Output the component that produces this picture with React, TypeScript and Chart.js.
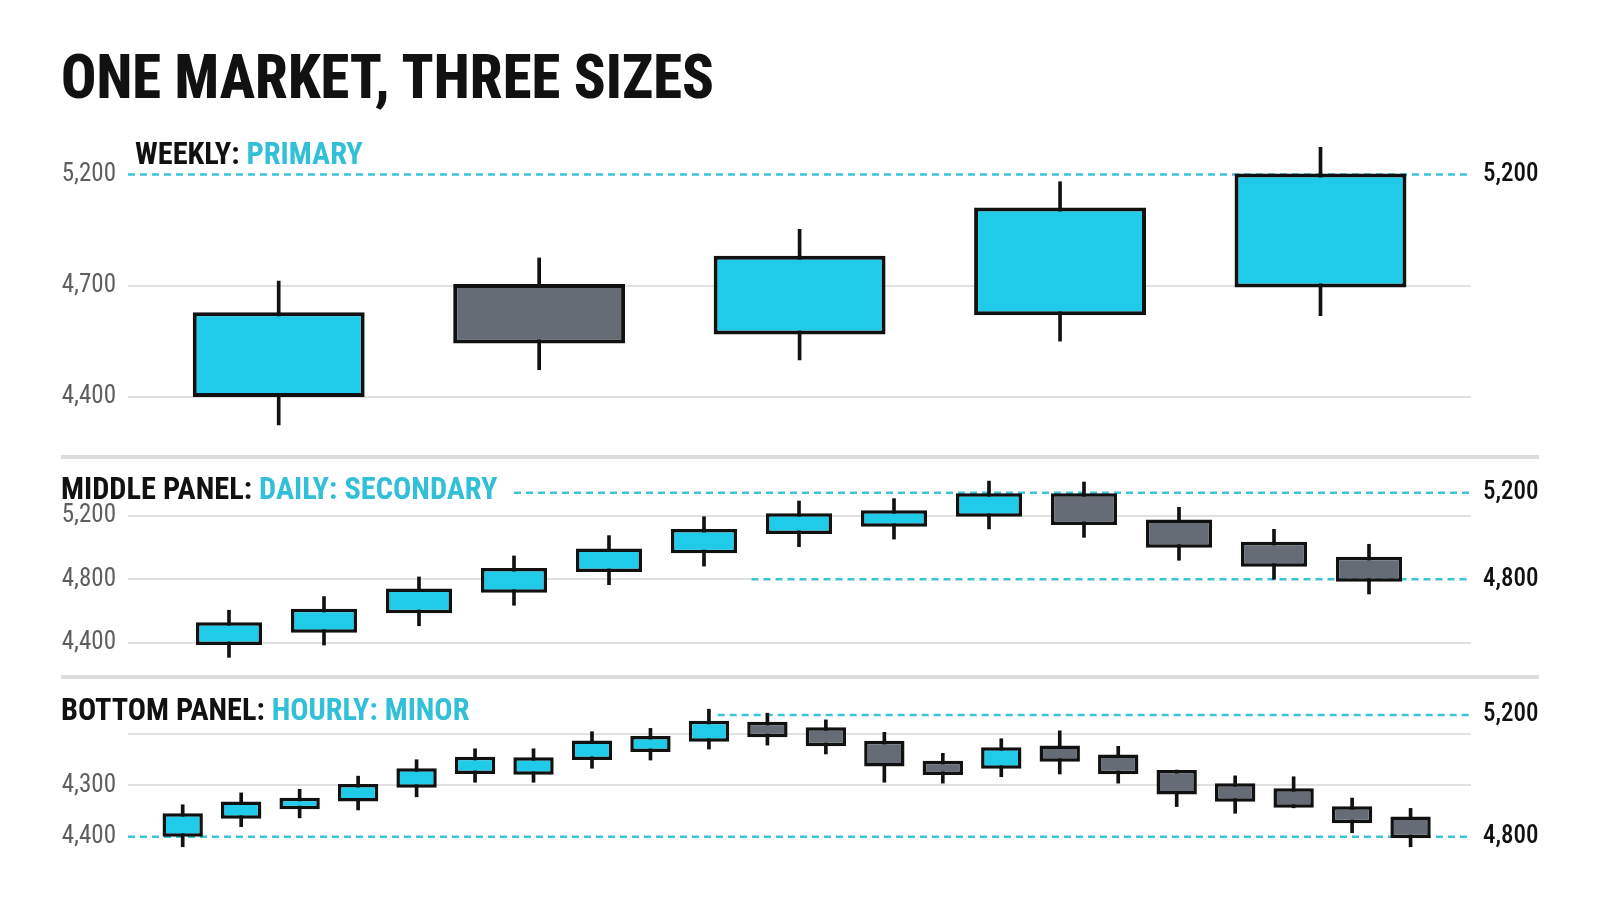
import React, { useEffect, useLayoutEffect, useRef, useState } from 'react';
import { Chart, registerables } from 'chart.js';

Chart.register(...registerables);

// ---------- DATA ----------
// Weekly candles (price units)
const weeklyOpen = [4400, 4806, 4625, 4694, 4794];
const weeklyHigh = [4817, 4900, 5003, 5174, 5298];
const weeklyLow = [4300, 4498, 4533, 4601, 4692];
const weeklyClose = [4705, 4592, 4908, 5081, 5204];
const weeklyLeftLabels = ['4,400', '4,700', '5,200'];
const weeklyRightTicks = [5200];
const weeklyRefLevels = [5200];

// Daily candles
const dailyOpen = [4496, 4553, 4643, 4738, 4834, 4920, 5009, 5043, 5089, 5198, 5077, 4974, 4904];
const dailyHigh = [4657, 4720, 4811, 4908, 5002, 5089, 5162, 5173, 5254, 5250, 5133, 5031, 4962];
const dailyLow = [4439, 4496, 4585, 4680, 4775, 4861, 4951, 4986, 5033, 4994, 4888, 4800, 4732];
const dailyClose = [4601, 4664, 4757, 4852, 4943, 5033, 5105, 5119, 5198, 5051, 4946, 4858, 4789];
const dailyLeftLabels = ['4,400', '4,800', '5,200'];
const dailyRightTicks = [4800, 5200];
const dailyRefLevels = [5200, 4800];

// Hourly candles
const hourlyOpen = [4800, 4859, 4890, 4916, 4961, 5006, 5004, 5052, 5078, 5112, 5178, 5160, 5115, 5050, 5023, 5100, 5070, 5019, 4976, 4959, 4900, 4866];
const hourlyHigh = [4905, 4944, 4956, 4999, 5053, 5089, 5089, 5145, 5156, 5219, 5206, 5184, 5143, 5074, 5122, 5148, 5097, 5019, 5000, 4997, 4927, 4893];
const hourlyLow = [4767, 4833, 4862, 4888, 4931, 4979, 4979, 5025, 5052, 5088, 5101, 5072, 4979, 4976, 4997, 5006, 4976, 4899, 4877, 4895, 4813, 4767];
const hourlyClose = [4877, 4916, 4928, 4973, 5025, 5063, 5061, 5116, 5131, 5181, 5127, 5097, 5031, 5003, 5094, 5046, 5005, 4939, 4915, 4895, 4844, 4795];
const hourlyLeftLabels = ['4,400', '4,300', ''];
const hourlyRightTicks = [4800, 5200];
const hourlyRefLevels = [5200, 4800];

// ---------- STYLE ----------
const CYAN = '#1fcbe8';
const GRAY = '#656c76';
const INK = '#111111';
const DASH = '#3cc4d7';
const GRID = '#e1e1e1';
const HEAD_CYAN = '#31c0d7';
const FONT = '"Roboto Condensed", Roboto, sans-serif';
const PLOT_LEFT = 128;
const PLOT_RIGHT = 1471;
const W = 1600;

function span(v1: number, p1: number, v2: number, p2: number, lo: number, hi: number) {
  const s = (p2 - p1) / (v2 - v1);
  const a = v1 + (lo - p1) / s;
  const b = v1 + (hi - p1) / s;
  return { min: Math.min(a, b), max: Math.max(a, b) };
}

type Panel = {
  top: number;
  height: number;
  pad: number;
  open: number[];
  high: number[];
  low: number[];
  close: number[];
  leftLabels: string[];
  rightTicks: number[];
  refLevels: number[];
  refFrom: (number | null)[];
  levelPix: [number, number];
  pricePix: [[number, number], [number, number]];
  xFirst: number;
  xStep: number;
  bodyPct: number;
  border: number;
};

const panels: Panel[] = [
  {
    top: 100, height: 370, pad: 40,
    open: weeklyOpen, high: weeklyHigh, low: weeklyLow, close: weeklyClose,
    leftLabels: weeklyLeftLabels, rightTicks: weeklyRightTicks,
    refLevels: weeklyRefLevels, refFrom: [null],
    levelPix: [397, 174.5], pricePix: [[4400, 397], [5200, 174.5]],
    xFirst: 278.7, xStep: 260.45, bodyPct: 0.66, border: 4,
  },
  {
    top: 430, height: 270, pad: 40,
    open: dailyOpen, high: dailyHigh, low: dailyLow, close: dailyClose,
    leftLabels: dailyLeftLabels, rightTicks: dailyRightTicks,
    refLevels: dailyRefLevels, refFrom: [3.0, 5.5],
    levelPix: [642.7, 516], pricePix: [[4800, 579.3], [5200, 492.8]],
    xFirst: 229, xStep: 95, bodyPct: 0.695, border: 3.5,
  },
  {
    top: 650, height: 250, pad: 40,
    open: hourlyOpen, high: hourlyHigh, low: hourlyLow, close: hourlyClose,
    leftLabels: hourlyLeftLabels, rightTicks: hourlyRightTicks,
    refLevels: hourlyRefLevels, refFrom: [9.15, null],
    levelPix: [836.7, 734], pricePix: [[4800, 836.7], [5200, 715]],
    xFirst: 182.7, xStep: 58.47, bodyPct: 0.69, border: 3.5,
  },
];

const refLinePlugin = {
  id: 'refLines',
  beforeDatasetsDraw(chart: any, _args: any, opts: any) {
    const { ctx, chartArea, scales } = chart;
    const y = scales.price;
    const x = scales.x;
    ctx.save();
    (opts.levels as number[]).forEach((v, i) => {
      const py = y.getPixelForValue(v);
      const f = opts.from[i];
      const x0 = f == null ? chartArea.left : x.getPixelForValue(f);
      const x1 = chartArea.right;
      ctx.setLineDash([]);
      ctx.strokeStyle = '#ffffff';
      ctx.lineWidth = 4;
      ctx.beginPath();
      ctx.moveTo(x0, py);
      ctx.lineTo(x1, py);
      ctx.stroke();
      ctx.setLineDash([7, 5]);
      ctx.strokeStyle = DASH;
      ctx.lineWidth = 2.5;
      ctx.beginPath();
      ctx.moveTo(x0, py);
      ctx.lineTo(x1, py);
      ctx.stroke();
    });
    ctx.restore();
  },
};

function CandlePanel({ p }: { p: Panel }) {
  const ref = useRef<HTMLCanvasElement>(null);
  useEffect(() => {
    const canvas = ref.current;
    if (!canvas) return;
    const chartTop = p.top + p.pad;
    const chartBottom = p.top + p.height - p.pad;
    const xr = span(0, p.xFirst, 1, p.xFirst + p.xStep, PLOT_LEFT, PLOT_RIGHT);
    const lr = span(0, p.levelPix[0], p.leftLabels.length - 1, p.levelPix[1], chartTop, chartBottom);
    const pr = span(p.pricePix[0][0], p.pricePix[0][1], p.pricePix[1][0], p.pricePix[1][1], chartTop, chartBottom);
    const colors = p.open.map((o, i) => (p.close[i] >= o ? CYAN : GRAY));
    const chart = new Chart(canvas, {
      type: 'bar',
      data: {
        datasets: [
          {
            label: 'body',
            data: p.open.map((o, i) => ({ x: i, y: [o, p.close[i]] })) as any,
            backgroundColor: colors,
            borderColor: INK,
            borderWidth: p.border,
            borderSkipped: false,
            grouped: false,
            categoryPercentage: 1,
            barPercentage: p.bodyPct,
            yAxisID: 'price',
            order: 0,
            clip: false as any,
          },
          {
            label: 'wick',
            data: p.low.map((l, i) => ({ x: i, y: [l, p.high[i]] })) as any,
            backgroundColor: INK,
            borderWidth: 0,
            grouped: false,
            barThickness: 3,
            yAxisID: 'price',
            order: 1,
            clip: false as any,
          },
        ],
      },
      options: {
        animation: false,
        responsive: false,
        devicePixelRatio: 1,
        layout: { padding: { top: p.pad, bottom: p.pad, left: 0, right: 0 } },
        plugins: {
          legend: { display: false },
          tooltip: { enabled: false },
          refLines: { levels: p.refLevels, from: p.refFrom },
        } as any,
        scales: {
          x: {
            type: 'linear',
            display: false,
            offset: false,
            min: xr.min,
            max: xr.max,
            grid: { offset: false },
            ticks: { autoSkip: false },
            afterBuildTicks: (s: any) => {
              s.ticks = p.open.map((_, i) => ({ value: i }));
            },
          },
          y: {
            type: 'linear',
            position: 'left',
            offset: false,
            min: lr.min,
            max: lr.max,
            grid: { color: GRID, lineWidth: 2, drawTicks: false },
            border: { display: false },
            ticks: {
              padding: 12,
              color: '#5e5e5e',
              font: { family: FONT, size: 25, weight: '400' as any },
              autoSkip: false,
              callback: (v: any) => p.leftLabels[v] ?? '',
            },
            afterBuildTicks: (s: any) => {
              s.ticks = p.leftLabels.map((_, i) => ({ value: i }));
            },
            afterFit: (s: any) => {
              s.width = PLOT_LEFT;
            },
          },
          price: {
            type: 'linear',
            position: 'right',
            offset: false,
            min: pr.min,
            max: pr.max,
            grid: { display: false, drawTicks: false },
            border: { display: false },
            ticks: {
              padding: 12,
              color: INK,
              font: { family: FONT, size: 25, weight: '500' as any },
              autoSkip: false,
              callback: (v: any) => Number(v).toLocaleString('en-US'),
            },
            afterBuildTicks: (s: any) => {
              s.ticks = p.rightTicks.map((value) => ({ value }));
            },
            afterFit: (s: any) => {
              s.width = W - PLOT_RIGHT;
            },
          },
        } as any,
      },
      plugins: [refLinePlugin as any],
    });
    return () => chart.destroy();
  }, [p]);
  return (
    <canvas
      ref={ref}
      width={W}
      height={p.height}
      style={{ position: 'absolute', left: 0, top: p.top, width: W, height: p.height }}
    />
  );
}

function FitText({
  left, capTop, size, width, weight, children,
}: { left: number; capTop: number; size: number; width: number; weight: number; children: React.ReactNode }) {
  const ref = useRef<HTMLDivElement>(null);
  const [sx, setSx] = useState(1);
  useLayoutEffect(() => {
    const el = ref.current;
    if (!el) return;
    const natural = el.offsetWidth;
    if (natural > 0) setSx(width / natural);
  }, [width]);
  return (
    <div
      ref={ref}
      style={{
        position: 'absolute',
        left,
        top: capTop - 0.131 * size,
        fontSize: size,
        lineHeight: 1,
        fontWeight: weight,
        fontFamily: FONT,
        whiteSpace: 'nowrap',
        display: 'inline-block',
        transform: `scaleX(${sx})`,
        transformOrigin: 'left top',
        color: INK,
        zIndex: 2,
      }}
    >
      {children}
    </div>
  );
}

function Rule({ y }: { y: number }) {
  return (
    <div style={{ position: 'absolute', left: 61, top: y - 2, width: 1478, height: 4, background: '#dcdcdc', zIndex: 1 }} />
  );
}

export default function App() {
  return (
    <div style={{ position: 'absolute', left: 0, top: 0, width: W, height: 914, background: '#ffffff', overflow: 'hidden' }}>
      <FitText left={61} capTop={55} size={61} width={653} weight={800}>
        ONE MARKET, THREE SIZES
      </FitText>
      {panels.map((p, i) => (
        <CandlePanel key={i} p={p} />
      ))}
      <FitText left={135} capTop={143.3} size={30.5} width={228} weight={700}>
        WEEKLY: <span style={{ color: HEAD_CYAN }}>PRIMARY</span>
      </FitText>
      <Rule y={456.7} />
      <FitText left={61} capTop={478.3} size={30.5} width={436} weight={700}>
        MIDDLE PANEL: <span style={{ color: HEAD_CYAN }}>DAILY: SECONDARY</span>
      </FitText>
      <Rule y={676.7} />
      <FitText left={61} capTop={699.3} size={30.5} width={408} weight={700}>
        BOTTOM PANEL: <span style={{ color: HEAD_CYAN }}>HOURLY: MINOR</span>
      </FitText>
    </div>
  );
}
